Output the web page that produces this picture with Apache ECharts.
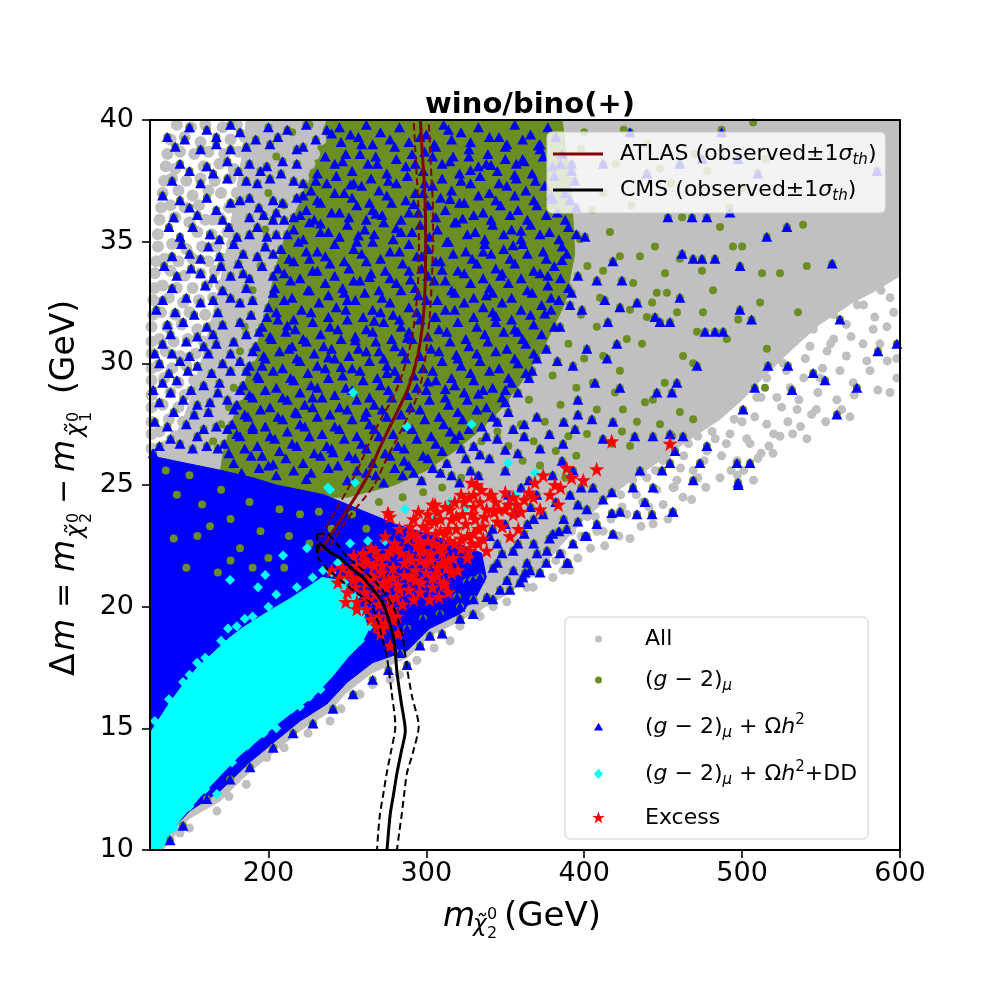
<!DOCTYPE html>
<html>
<head>
<meta charset="utf-8">
<title>wino/bino(+)</title>
<script src="https://cdn.jsdelivr.net/npm/echarts@6/dist/echarts.min.js"></script>
<style>
  html, body { margin: 0; background: #fff; }
  #chart { width: 1000px; height: 1000px; }
</style>
</head>
<body>
<div id="chart"></div>
<script>
// wino/bino(+) : Δm vs m(χ2) scan, ATLAS / CMS limits

const FONT = 'DejaVu Sans'

const xTicks = [200, 300, 400, 500, 600]

// dense cores of each sample (filled areas), [m_chi2, dm]
const allCore = [[186,40],[600,40],[600,33.6],[585,33.0],[570,32.5],[549,31.6],[532,30.6],[513,29.4],[500,28.5],[486,27.7],[465,26.8],[448,26.0],[430,25.2],[420,24.7],[400,23.6],[385,22.5],[372,21.5],[351,20.5],[321,19.4],[302,18.8],[288,17.9],[266,17.3],[250,16.5],[237,15.6],[220,14.9],[203,14.0],[188,13.2],[169,12.0],[150,11.3],[138,10.4],[133,10],[125,10],[125,26.2],[135,26.5],[145,27.5],[152,28.8],[158,30.2],[164,31.8],[170,33.5],[175,35.2],[179,36.8],[183,38.4],[186,40]]
const g2Core = [[237,40],[386,40],[392,37],[394,34.5],[388,32.5],[374,30.6],[360,29.2],[347,28.1],[333,27.2],[318,26.4],[300,25.6],[280,25.0],[250,24.5],[200,24.5],[168,25],[172,26.5],[178,27.8],[186,29.4],[193,30.8],[200,32.5],[205,34],[212,35.5],[220,36.6],[228,38.2],[237,40]]
const relicCore = [[125,10],[125,26.2],[140,26.0],[155,25.8],[170,25.6],[190,25.3],[205,25.0],[220,24.8],[235,24.6],[250,24.2],[265,23.8],[280,23.4],[300,23.0],[320,22.6],[335,22.2],[338,21.2],[330,20.2],[321,19.7],[302,19.1],[288,18.2],[266,17.7],[250,16.9],[237,16.0],[220,15.3],[203,14.4],[188,13.6],[169,12.4],[150,11.6],[140,10.9],[134,10.3],[132,10]]
const ddCore = [[125,10],[125,14.8],[130,15.3],[137,16.0],[146,16.8],[155,17.5],[165,18.1],[175,18.7],[183,19.1],[195,19.6],[205,20.0],[213,20.3],[225,20.8],[234,21.2],[243,21.1],[250,20.8],[256,20.3],[261,19.6],[263,19.0],[259,18.5],[250,17.9],[240,17.1],[230,16.4],[220,15.9],[208,15.3],[195,14.6],[182,13.9],[170,13.1],[157,12.2],[145,11.3],[137,10.6],[132,10]]

// grey points of the upper-left strip
const allStrip = [[142,39.8],[151,39.7],[160,39.8],[171,39.7],[180,39.8],[190,39.7],[199,39.8],[209,39.7],[219,39.8],[229,39.7],
  [138,39.2],[147,39.3],[157,39.1],[176,39.2],[185,39.3],[195,39.1],[204,39.2],[214,39.3],[224,39.1],[233,39.2],
  [136,38.6],[144,38.7],[153,38.6],[162,38.7],[172,38.6],[181,38.7],[210,38.6],[220,38.7],[229,38.6],
  [135,38.1],[141,38.0],[159,38.1],[169,38.2],[178,38.0],[188,38.1],[197,38.2],[207,38.0],[216,38.1],[226,38.2],
  [134,37.5],[139,37.6],[148,37.5],[157,37.6],[166,37.5],[176,37.6],[185,37.5],[204,37.6],[213,37.5],[222,37.6],
  [133,37.0],[143,37.1],[152,36.9],[180,37.0],[190,37.1],[199,36.9],[209,37.0],[218,37.1],
  [132,36.4],[138,36.5],[147,36.4],[156,36.5],[175,36.4],[185,36.5],[194,36.4],[203,36.5],[213,36.4],
  [131,35.9],[141,36.0],[150,35.8],[160,35.9],[169,36.0],[188,35.8],[198,35.9],[207,36.0],
  [130,35.3],[155,35.4],[164,35.3],[174,35.4],[183,35.3],[193,35.4],[202,35.3],
  [130,34.8],[139,34.9],[148,34.7],[158,34.8],[177,34.9],[186,34.7],[196,34.8],[205,34.9],
  [129,34.2],[134,34.3],[143,34.2],[152,34.3],[162,34.2],[171,34.3],[181,34.2],[200,34.3],
  [128,33.7],[138,33.8],[147,33.6],[157,33.7],[166,33.8],[176,33.6],[185,33.7],[195,33.8],
  [128,33.1],[133,33.2],[142,33.1],[170,33.2],[180,33.1],[189,33.2],[199,33.1],
  [127,32.6],[137,32.7],[146,32.5],[156,32.6],[165,32.7],[175,32.5],[184,32.6],[194,32.7],
  [127,32.0],[132,32.1],[141,32.0],[150,32.1],[160,32.0],[179,32.1],[188,32.0],[196,32.1],
  [126,31.5],[145,31.6],[155,31.4],[164,31.5],[174,31.6],[183,31.4],[192,31.5],
  [126,30.9],[131,31.0],[140,30.9],[149,31.0],[159,30.9],[168,31.0],[178,30.9],[187,31.0],
  [126,30.4],[135,30.5],[144,30.3],[173,30.4],[182,30.5],[189,30.3],
  [126,29.8],[130,29.9],[139,29.8],[148,29.9],[158,29.8],[167,29.9],[177,29.8],[185,29.9],
  [126,29.3],[134,29.4],[143,29.2],[153,29.3],[162,29.4],[181,29.2],
  [126,28.7],[138,28.8],[147,28.7],[157,28.8],[166,28.7],[175,28.8],[181,28.7],
  [126,28.2],[133,28.3],[152,28.1],[161,28.2],[170,28.3],[177,28.1],
  [126,27.6],[137,27.7],[146,27.6],[156,27.7],[165,27.6],[173,27.7],
  [126,27.1],[131,27.2],[141,27.0],[160,27.1],[169,27.2],
  [126,26.5],[135,26.6],[145,26.5],[154,26.6],[163,26.5],[168,26.6],
  [194,38.6],[201,38.7],[190,37.5],[197,37.6],[170,37.0],[162,37.1],[165,35.9],[180,35.9],[193,35.0],[167,34.8],[190,34.2],[152,33.1],[161,33.2],[171,32.1],[136,31.5],[154,30.4],[163,30.4],[172,29.3],[143,28.2]]

// single points outside the cores
const allPts = [[593.7,32.7],[591.7,31.5],[587.3,30.8],[593.7,28.8],[581,29.7],[576.6,30.8],[568.3,27.8],[570.4,29.2],[562,29.7],[553.8,30.5],[549.3,29.4],[545,31.4],[541,26.9],[534.8,28.1],[530.4,29.0],[526,30.0],[519.6,26.3],[515.6,27.5],[509.3,28.6],[515.6,29.4],[507.2,25.2],[505,26.7],[496.8,26.0],[492.3,27.1],[486,25.3],[477.7,26.4],[469,25.6],[458.7,25.2],[450,26.0],[439.7,25.3],
  [462.5,24.5],[450,24.2],[437,24.3],[443.6,23.4],[429,22.8],[413,22.5],[396,22.0],[386.6,21.5],[363.7,20.8],[456.2,24.9],[430.8,25.2],[418.3,24.9],[391,21.5],[380.2,21.2],[367.6,20.8],[351,20.2],[342.3,20.0],[334,19.6],
  [598,30.2],[584,31.9],[577,32.4],[566,31.6],[558,31.0],[540,30.2],[537,27.4],[524,27.0],[522,28.6],[500,27.6],[483,26.9],[472,27.0],[463,26.2],[454,27.0],[445,25.6],[424,24.1],[408,23.1],[402,23.7],[379,22.3],[370,21.9],[356,21.1],[346,20.9],[328,19.9],[560,28.5],[547,28.1],[529,27.6],[512,26.3],[497,25.4],[477,24.9],[468,24.4],[453,23.6],[436,23.3],[422,22.9],[404,22.4],
  [596,32.1],[598,29.4],[592,30.1],[588,33.0],[583,31.4],[579,30.1],[586,28.9],[573,32.4],[569,31.1],[566,30.3],[571,28.7],[563,28.1],[558,32.0],[556,30.8],[551,29.8],[548,28.8],[553,27.6],[543,30.7],[539,29.4],[536,28.5],[544,27.9],[532,27.1],[528,29.7],[525,28.2],[520,27.1],[517,26.6],[512,28.6],[508,27.8],[503,26.9],[510,26.1],[501,25.6],[495,27.7],[490,26.7],[487,26.2],[493,25.6],[481,27.2],[476,26.0],[472,25.3],[466,26.7],[461,25.7],[457,24.9],[452,26.1],[446,24.8],[441,24.1],[437,25.5],[433,24.6],[427,23.8],[423,24.6],[417,23.6],[412,23.1],[407,23.7],[398,22.9],[392,23.1],[386,22.2],[382,21.9],[375,22.3],[368,21.4],
  [258,16.4],[239,15.3],[199,13.8],[167.4,11.6],[144,10.7],[294,17.8],[277,17.0],[315,18.6],[321.3,19.2],[340.3,20.4],[332,19.9],[150,10.9],[175,12.2],[186,12.7],[210,14.2],[225,14.8],[246,15.8],[266,16.8],[283,17.2],[305,18.3]]

const g2Pts = [[538.6,35.7],[524,33.7],[512.6,33.7],[541,34.0],[535.4,32.1],[515.7,30.6],[514.5,29.0],[511.4,32.5],[500,34.8],[494.2,34.8],[497.5,31.8],[486,35.6],[481.6,33.0],[490.3,31.0],[474.6,33.8],[475.2,32.1],[471.4,31.3],[469,30.0],[462.6,30.3],[458.8,32.1],[460.6,34.3],[444.8,34.8],[451.2,33.7],[452.4,32.9],[446,32.9],[443,32.5],[439.7,31.9],[436.6,30.8],[451,29.2],[443.5,28.5],[438.5,28.4],[433.4,27.6],[448,27.5],[460.6,28.0],[469,27.7],[455.6,27.0],[423.9,27.2],[417.6,26.7],[429,26.6],[424.5,28.1],[419.5,28.8],[422.6,29.7],[427,31.0],[429,32.2],[431,33.3],[435.3,34.4],[422.6,34.4],[416.3,35.4],[412,33.8],[410,32.7],[408,31.5],[412,30.3],[405.5,29.2],[408,28.1],[401.8,27.1],[397.3,35.1],
  [400,39.5],[420,38.2],[440,39.0],[455,37.4],[470,38.6],[487,39.6],[500,37.2],[507,39.9],[430,36.5],[462,36.0],[478,37.9],[515,38.4],[492,36.4],[448,38.0],[412,37.0],[425,39.6],[405,36.3],
  [335,26.8],[345,27.2],[352,26.6],[360,27.5],[368,26.8],[375,27.6],[382,26.4],[390,27.0],[372,25.8],[395,26.2],[385,28.3],[365,28.5],[395,29.0],[380,29.5],[390,30.8],[398,32.0],[392,37.5],[398,38.8],[402,34.0],[400,30.2],[388,25.3],[361,26.0],[378,31.8],
  [200,37.0],[195,34.0],[185,31.5],[178,29.0],[170,27.5],[215,39.5],[205,38.5],[190,33.0],[182,30.5],[210,36.5],[198,35.5],[226,39.8],[175,28.2],[165,26.8],
  [135,25.6],[142,24.6],[150,25.4],[158,24.2],[163,23.3],[170,24.8],[176,23.6],[182,22.4],[188,24.3],[195,23.1],[200,22.0],[207,24.0],[213,22.9],[220,23.8],[226,22.6],[232,23.9],[240,23.2],[253,23.8],[262,23.2],[270,24.3],[285,24.5],[298,24.7],[310,24.9],[322,25.3],[140,22.8],[148,21.6],[155,22.9],[168,21.4],[176,21.9],[190,21.6],[210,21.6]]

const relicPts = [
  // left strip
  [150,39.7],[161,39.6],[176,39.8],[182,39.5],[200,39.7],[212,39.6],[224,39.8],[237,39.6],[245,39.7],
  [141,38.9],[157,38.8],[167,39.0],[176,38.8],[186,38.9],[201,39.0],[218,38.8],[222,38.9],
  [144,38.2],[161,38.1],[174,38.3],[188,38.2],[199,38.1],[209,38.3],[218,38.2],
  [139,37.5],[157,37.4],[174,37.6],[186,37.5],[193,37.4],[201,37.6],[216,37.5],[222,37.4],
  [144,36.7],[161,36.8],[176,36.6],[182,36.7],[188,36.8],[203,36.7],[209,36.6],[218,36.8],
  [140,36.0],[155,36.1],[171,35.9],[188,36.0],[197,36.1],[203,35.9],[216,36.0],
  [144,35.2],[163,35.3],[169,35.1],[180,35.2],[188,35.3],[199,35.2],
  [139,34.4],[150,34.5],[157,34.3],[169,34.4],[184,34.5],[193,34.4],
  [142,33.6],[157,33.7],[165,33.5],[176,33.6],[184,33.7],[188,33.5],[203,33.6],
  [133,32.6],[148,32.7],[157,32.5],[165,32.6],[176,32.7],[182,32.5],[190,32.6],
  [136,31.6],[146,31.7],[161,31.5],[171,31.6],[182,31.7],
  [133,30.8],[148,30.9],[159,30.7],[167,30.8],[178,30.9],
  [131,30.0],[144,30.1],[155,29.9],[171,30.0],[182,30.1],
  [133,29.2],[142,29.3],[159,29.1],[169,29.2],
  [131,28.4],[146,28.5],[155,28.3],[163,28.4],[174,28.5],
  [136,27.4],[148,27.5],[159,27.3],[167,27.4],
  [131,26.6],[144,26.7],[152,26.5],[161,26.6],
  [136,39.3],[147,39.2],[167,39.3],[192,39.2],[206,39.3],[230,39.2],[150,37.9],[165,37.8],[181,37.9],[195,37.9],[208,37.8],[133,36.9],[150,36.4],[167,36.3],[194,36.4],[210,35.9],[137,35.6],[152,35.6],[175,35.6],[193,35.6],[205,35.3],[145,34.9],[162,34.8],[178,34.9],[198,34.8],[134,34.0],[151,33.9],[170,34.0],[181,34.1],[196,34.0],[139,33.1],[160,33.2],[171,33.0],[186,33.1],[129,32.2],[141,32.1],[153,32.0],[168,32.1],[189,32.0],[138,31.2],[155,31.1],[165,31.2],[186,31.2],[128,30.4],[139,30.4],[150,30.3],[162,30.4],[176,30.4],[137,29.6],[149,29.7],[164,29.6],[176,29.7],[127,28.9],[138,28.8],[151,28.9],[168,28.8],[140,28.0],[153,27.9],[162,28.0],[128,27.6],[138,26.9],[155,27.0],[127,26.3],
  // g-2 core
  [252,39.4],[262,39.8],[271,39.5],[283,39.7],[300,39.4],[311,39.8],[322,39.5],[333,39.7],[346,39.3],[356,39.8],[366,39.4],[377,39.7],
  [249,38.6],[259,39.0],[268,38.5],[280,38.9],[291,38.6],[306,38.9],[317,38.5],[327,38.8],[339,38.6],[350,38.9],[361,38.4],[372,38.8],[386,38.6],
  [231,37.8],[242,38.2],[253,37.9],[263,38.2],[275,37.8],[287,38.1],[298,37.9],[310,38.2],[321,37.8],[333,38.1],[345,37.9],[357,38.2],[367,37.8],[380,38.1],[392,37.9],
  [227,37.1],[237,37.4],[248,37.0],[259,37.3],[270,37.1],[281,37.4],[293,37.0],[304,37.3],[316,37.1],[328,37.4],[340,37.0],[351,37.3],[363,37.1],[375,37.3],[388,37.0],
  [224,36.3],[233,36.6],[245,36.2],[256,36.5],[266,36.3],[278,36.6],[289,36.2],[301,36.5],[312,36.3],[324,36.6],[336,36.2],[347,36.5],[358,36.3],[370,36.5],[383,36.2],[395,36.4],
  [216,35.5],[226,35.8],[238,35.4],[250,35.7],[261,35.5],[273,35.8],[284,35.4],[296,35.7],[307,35.5],[319,35.8],[331,35.4],[342,35.7],[354,35.5],[366,35.7],[378,35.4],[390,35.6],
  [208,34.7],[219,35.0],[231,34.6],[242,34.9],[254,34.7],[266,35.0],[277,34.6],[289,34.9],[301,34.7],[313,35.0],[325,34.6],[337,34.9],[349,34.7],[361,34.9],[374,34.6],[386,34.8],
  [206,33.9],[216,34.2],[228,33.8],[239,34.1],[251,33.9],[262,34.2],[274,33.8],[285,34.1],[297,33.9],[309,34.2],[320,33.8],[332,34.1],[344,33.9],[356,34.1],[368,33.8],[381,34.0],
  [204,33.1],[214,33.4],[225,33.0],[236,33.3],[247,33.1],[258,33.4],[270,33.0],[281,33.3],[293,33.1],[305,33.4],[316,33.0],[328,33.3],[340,33.1],[352,33.3],[364,33.0],[377,33.2],[390,33.1],
  [200,32.3],[210,32.6],[221,32.2],[232,32.5],[243,32.3],[255,32.6],[266,32.2],[277,32.5],[289,32.3],[300,32.6],[312,32.2],[324,32.5],[336,32.3],[348,32.5],[360,32.2],[373,32.4],[384,32.6],
  [196,31.5],[206,31.8],[217,31.4],[228,31.7],[239,31.5],[250,31.8],[262,31.4],[273,31.7],[284,31.5],[296,31.8],[308,31.4],[320,31.7],[332,31.5],[344,31.7],[356,31.4],[368,31.6],[381,31.5],
  [192,30.7],[202,31.0],[213,30.6],[224,30.9],[235,30.7],[246,31.0],[257,30.6],[268,30.9],[280,30.7],[291,31.0],[303,30.6],[315,30.9],[327,30.7],[339,30.9],[351,30.6],[363,30.8],[376,30.6],
  [188,29.9],[198,30.2],[209,29.8],[220,30.1],[231,29.9],[242,30.2],[253,29.8],[264,30.1],[275,29.9],[287,30.2],[298,29.8],[310,30.1],[322,29.9],[334,30.1],[346,29.8],[358,30.0],[370,30.2],
  [184,29.1],[194,29.4],[205,29.0],[216,29.3],[227,29.1],[238,29.4],[249,29.0],[260,29.3],[271,29.1],[282,29.4],[294,29.0],[306,29.3],[318,29.1],[330,29.3],[342,29.0],[354,29.2],[365,29.4],
  [180,28.3],[190,28.6],[201,28.2],[212,28.5],[223,28.3],[234,28.6],[245,28.2],[256,28.5],[267,28.3],[278,28.6],[290,28.2],[302,28.5],[314,28.3],[326,28.5],[338,28.2],[350,28.4],
  [177,27.5],[187,27.8],[198,27.4],[209,27.7],[220,27.5],[231,27.8],[242,27.4],[253,27.7],[264,27.5],[275,27.8],[287,27.4],[299,27.7],[311,27.5],[323,27.7],[335,27.4],[345,27.6],
  [172,26.7],[182,27.0],[193,26.6],[204,26.9],[215,26.7],[226,27.0],[237,26.6],[248,26.9],[259,26.7],[270,27.0],[282,26.6],[294,26.9],[306,26.7],[318,26.9],[330,26.6],
  [178,25.9],[189,26.2],[200,25.8],[211,26.1],[222,25.9],[233,26.2],[244,25.8],[255,26.1],[266,25.9],[277,26.2],[289,25.8],[301,26.1],[313,25.9],[325,26.1],
  [250,25.2],[262,25.5],[273,25.1],[285,25.4],[297,25.2],[309,25.5],[321,25.1],[333,25.4],
  [246,39.1],[257,39.3],[266,39.0],[277,39.2],[289,39.1],[296,39.3],[305,39.0],[316,39.2],[328,39.1],[340,39.3],[351,39.0],[361,39.2],[372,39.0],[382,39.3],
  [236,38.5],[247,38.3],[258,38.6],[269,38.2],[281,38.4],[293,38.2],[304,38.5],[315,38.3],[327,38.5],[338,38.2],[350,38.4],[362,38.3],[374,38.5],[385,38.2],
  [230,37.5],[243,37.7],[254,37.4],[265,37.6],[276,37.5],[288,37.7],[299,37.4],[310,37.6],[322,37.5],[334,37.7],[346,37.4],[357,37.6],[369,37.5],[381,37.7],[394,37.5],
  [222,36.9],[231,36.7],[242,37.0],[253,36.8],[264,36.6],[275,36.9],[287,36.7],[298,37.0],[309,36.8],[321,36.6],[333,36.9],[344,36.7],[356,36.9],[368,36.7],[379,36.9],[391,36.7],
  [220,36.1],[229,35.9],[240,36.2],[251,36.0],[262,35.9],[272,36.1],[284,35.9],[295,36.2],[306,36.0],[318,35.8],[330,36.1],[341,35.9],[353,36.1],[364,35.9],[376,36.1],[388,35.9],
  [212,35.3],[222,35.1],[233,35.4],[245,35.2],[256,35.0],[267,35.3],[279,35.1],[291,35.4],[302,35.2],[314,35.0],[326,35.3],[337,35.1],[349,35.3],[360,35.1],[372,35.3],[384,35.1],[395,35.3],
  [203,34.5],[213,34.3],[224,34.6],[236,34.4],[248,34.2],[259,34.5],[271,34.3],[283,34.6],[294,34.4],[306,34.2],[317,34.5],[329,34.3],[341,34.5],[353,34.3],[364,34.5],[376,34.3],[389,34.5],
  [210,33.7],[220,33.5],[231,33.8],[242,33.6],[254,33.4],[265,33.7],[277,33.5],[289,33.8],[301,33.6],[312,33.4],[324,33.7],[336,33.5],[348,33.7],[360,33.5],[372,33.7],[385,33.5],
  [203,32.9],[215,32.7],[226,33.0],[238,32.8],[250,32.6],[261,32.9],[272,32.7],[284,33.0],[295,32.8],[307,32.6],[318,32.9],[330,32.7],[342,32.9],[354,32.7],[367,32.9],[379,32.7],[392,32.9],
  [199,31.9],[205,32.1],[216,31.8],[227,32.1],[238,31.9],[249,32.2],[260,31.9],[271,32.1],[283,31.8],[294,32.1],[306,31.9],[318,32.2],[330,31.9],[342,32.1],[354,31.8],[366,32.0],[379,32.2],
  [194,31.3],[201,31.1],[211,31.3],[222,31.0],[233,31.2],[244,31.4],[255,31.1],[266,31.3],[278,31.0],[289,31.3],[301,31.1],[313,31.3],[325,31.0],[337,31.2],[349,31.3],[361,31.0],[373,31.2],
  [190,30.5],[197,30.3],[207,30.5],[218,30.2],[229,30.4],[240,30.6],[251,30.3],[262,30.5],[273,30.2],[285,30.5],[296,30.3],[308,30.5],[320,30.2],[332,30.4],[344,30.5],[356,30.2],[368,30.4],
  [186,29.7],[193,29.5],[203,29.7],[214,29.4],[225,29.6],[236,29.8],[247,29.5],[258,29.7],[269,29.4],[280,29.7],[292,29.5],[304,29.7],[316,29.4],[328,29.6],[340,29.7],[352,29.4],[363,29.6],
  [182,28.9],[188,28.7],[198,28.9],[209,28.6],[220,28.8],[231,29.0],[242,28.7],[253,28.9],[264,28.6],[276,28.9],[288,28.7],[300,28.9],[312,28.6],[324,28.8],[336,28.9],[348,28.6],[358,28.8],
  [178,28.1],[185,27.9],[195,28.1],[206,27.8],[217,28.0],[228,28.2],[239,27.9],[250,28.1],[261,27.8],[272,28.1],[284,27.9],[296,28.1],[308,27.8],[320,28.0],[332,28.1],[342,27.8],[352,28.0],
  [174,27.3],[180,27.1],[190,27.3],[201,27.0],[212,27.2],[223,27.4],[234,27.1],[245,27.3],[256,27.0],[267,27.3],[279,27.1],[291,27.3],[303,27.0],[315,27.2],[327,27.3],[338,27.0],
  [168,26.5],[175,26.3],[185,26.5],[196,26.2],[207,26.4],[218,26.6],[229,26.3],[240,26.5],[251,26.2],[262,26.5],[274,26.3],[286,26.5],[298,26.2],[310,26.4],[322,26.5],
  [183,25.5],[194,25.7],[205,25.4],[216,25.6],[227,25.5],[238,25.7],[256,25.6],[268,25.4],[280,25.7],[292,25.5],[304,25.7],[316,25.4],[328,25.6],
  [257,35.25],[279,32.0],[301,29.25],[323,35.95],[344,31.95],[367,29.7],[238,30.25],[262,28.0],[286,26.0],[310,33.85],[333,28.75],[355,34.85],[377,33.6],[226,34.3],[248,32.9],[270,30.5],[292,36.55],[314,39.6],[336,34.6],[358,31.3],[380,36.75],[215,30.7],[240,39.45],[264,33.55],[288,31.05],[312,28.95],[334,26.25],[356,37.75],[218,27.95],[241,26.35],[268,36.15],[297,34.4],[319,30.35],[341,38.15],[362,27.5],[383,30.1],[205,36.2],[228,28.6],[252,37.35],[275,29.6],[299,38.7],[321,27.05],[347,33.6],[371,38.95],[196,29.9],[212,31.55],[233,35.75],[255,30.95],[281,35.55],[305,31.9],[328,37.95],[350,26.45],[375,32.05],[190,27.4],[203,25.85],[224,25.25],[246,29.85],[267,31.75],[290,33.45],[315,36.75],[338,32.8],[360,35.45],[386,34.25],
  [340,26.1],[350,25.6],[358,26.3],[365,25.2],[372,26.5],[380,25.4],[386,26.0],[393,25.6],[345,26.9],[355,27.3],[362,27.0],[370,27.8],[378,27.1],[387,27.6],[396,27.9],[350,28.9],
  // right side, among grey
  [528.4,35.6],[515.6,35.2],[557,34.1],[562,31.8],[586,30.5],[598,30.8],[572.7,29.0],[560,27.9],[545,29.6],[552.5,29.3],[531.6,28.9],[529,29.9],[516.4,29.9],[508,29.0],[500.6,28.1],[496.8,25.9],[505,25.9],[497.4,25.1],[498.6,32.2],[506,31.8],[488,31.3],[482.8,31.3],[476.5,31.3],[471.4,29.9],[460.6,32.7],[474.6,34.3],[469,34.3],[482.8,34.3],[462,34.5],[498.7,34.0],[468.3,36.0],[477.7,36.0],[453,36.0],[492.3,36.2],
  [448,31.7],[454.3,31.7],[444.8,31.9],[433.5,32.5],[458.7,29.2],[446,28.8],[455.6,28.8],[443.5,27.0],[454.3,27.1],[462.6,27.0],[477.7,26.6],[473.3,25.9],[469,25.2],[457.5,26.4],[432,27.0],[422.6,29.0],[414.5,30.2],[420.7,30.8],[415,31.7],[422.6,32.3],[413,32.6],[423.9,33.4],[408,33.4],[418.2,34.2],[400.5,35.2],[396,33.6],[391,32.4],[398.6,32.2],[384.7,31.5],[401.7,30.6],[392.9,29.9],[406.8,29.2],[396,28.5],[404.9,27.7],[418.2,27.6],[411.9,26.9],[394.2,27.3],[386.6,26.7],
  [439.7,37.8],[460.6,38.2],[474.6,38.4],[497.4,38.4],[487,39.5],[510,37.8],[585.4,37.9],[412,38.2],[429,39.5],[392,38.2],
  // lower band
  [456.2,23.9],[443,23.8],[433.4,23.8],[422.7,23.9],[417.5,24.7],[430.9,24.9],[435.3,25.6],[449.3,25.6],[454.3,25.9],[411.9,24.4],[405.6,24.9],[401.7,24.0],[408,23.4],[418.2,23.0],[396,23.5],[389,23.2],[400.5,22.9],[392.9,22.6],[380.2,23.0],[376.4,22.3],[384.7,22.2],[389,21.8],[370.1,22.2],[363.8,21.8],[372,21.4],[355.1,21.5],[351.1,21.1],[359.3,21.0],[346.7,20.7],[338.4,20.4],[329.9,20.3],[321.3,20.0],[325.7,21.0],[334,21.2],[342.3,21.6],[443.6,24.9],[438.5,24.3],[497.6,25.0],[456,23.9],[417.5,23.85],[401.6,22.9],[389.7,21.8],[365.7,21.5],[362.5,21.4],
  [287.8,19.1],[297.9,19.5],[308.6,19.7],[321.3,19.5],[302.3,18.8],[283.3,18.1],[287.8,17.6],[296,18.4],[329.6,19.7],[342.2,20.3],[353,20.7],[361.2,21.2],[319.5,20.4],[329.6,21.1],[345,22.6],[355,22.3],[362,23.0],[368,23.6],[350,23.4],[340,22.9],
  [342,23.2],[348,22.2],[352,24.6],[358,22.6],[364,23.4],[368,22.6],[374,23.8],[378,22.8],[382,24.3],[387,23.6],[391,24.6],[396,24.2],[360,24.9],[370,24.6],[345,21.8],[356,23.9],[384,23.1],[376,21.8],[366,24.1],[398,24.9],
  [161,12.1],[175.7,12.9],[188.3,13.4],[203,14.2],[215.6,14.8],[228.2,15.2],[240.9,15.8],[253.6,16.4],[266,17.0],[145.9,11.0],[137.7,10.4],[276,17.4],[310,18.9]]

const ddPts = [[253.6,28.8],[287.7,27.4],[328.7,27.5],[351.8,25.9],[368.8,25.5],[356.2,24.6],[315,24.3],[325,24.1],[286.5,24.0],[305.5,23.7],[239,24.8],[254.8,25.1],[251.7,22.6],[263,22.7],[273.8,22.7],[234.6,21.5],[224.4,22.4],[209.3,22.1],[198,21.3],[175.7,21.1],[193.4,20.8],[185,19.5],[174.4,19.1],[154.8,17.7],[145.9,16.9],[244,21.8],[237.7,24.9],
  [128,15.3],[137,16.2],[150,17.2],[160,17.9],[170,18.6],[180,19.2],[190,19.6],[200,20.0],[205,20.5],[218,20.8],[228,21.2],[240,21.4],[248,21.0],[255,20.4],[260,19.8],
  [131,10.2],[140,10.9],[150,11.8],[160,12.5],[167.4,12.3],[177,13.6],[187,14.3],[197,14.8],[205,15.0],[215,15.8],[220,15.9],[226,16.3],[233,16.6],[242,17.5],[252,18.3],[258,18.6],[264,19.2]]

const excessPts = [[417.4,26.8],[454.3,26.7],[388.9,25.7],[407.9,25.65],[399.4,25.2],[381.5,25.0],[368.8,25.1],[328.7,25.1],[335,24.8],[341.4,24.6],[367.8,24.5],[378.3,24.6],[383.6,24.2],[357.2,24.2],[349.8,24.0],[338.2,24.0],[305.5,24.2],[277,23.7],[358.3,23.2],[353,22.9],[338.2,22.3],[304,24.2],[362,24.4],[372,24.0],[345,23.5],[332,25.0],[340.3,24.6],[313,21.6],[275.7,23.85],
  [292,23.6],[297,22.6],[300,23.2],[303,22.2],[306,23.0],[309,23.6],[311,22.5],[314,23.2],[317,22.0],[319,23.7],[322,22.8],[325,23.4],[327,22.3],[330,23.0],[333,22.6],[336,23.3],[296,21.9],[310,21.8],[320,21.5],[301,23.8],[315,24.0],[324,24.3],[329,23.8],[294,22.9],[305,22.6],[318,22.6],[312,24.1],[326,22.0],[331,23.6],[307,23.9],
  [258,21.2],[261,20.6],[263,21.8],[266,21.2],[268,20.5],[270,22.0],[272,21.4],[275,20.8],[277,22.3],[279,21.6],[282,20.9],[284,22.2],[286,21.3],[289,20.7],[291,21.9],[293,21.1],[296,20.6],[298,22.3],[300,21.4],[304,20.8],[307,21.6],[311,21.0],[314,20.6],[316,21.4],[280,22.6],[288,22.8],[295,22.7],[270,20.1],[276,19.8],[285,20.1],[256,21.7],[260,22.2],[265,22.4],[274,22.9],[283,23.2],[290,23.3],[302,20.3],[308,20.4],[292,20.3],[281,20.4],[267,21.7],[273,21.0],
  [281.5,19.6],[268.6,19.2],[279,19.45],[274,19.3],[253.6,21.1],[245.3,21.2],[250,20.6],[247,21.6],[256,20.2],[262,19.9],[271,18.9],[277,18.4],[282,18.9],[240,21.5],
  [344,24.3],[350,24.7],[355,23.8],[348,23.3],[343,23.9],[352,24.2],[360,23.9],[365,24.7],[374,25.4],[385,24.9],[392,25.3],
  [255,20.8],[262,21.0],[269,20.9],[276,21.1],[283,20.7],[290,21.2],[297,21.0],[304,21.2],[311,20.9],[258,21.6],[265,21.3],[272,21.7],[279,21.2],[286,21.8],[293,21.5],[300,21.8],[307,21.3],[314,21.9],[254,22.1],[261,21.9],[268,22.3],[275,22.1],[282,22.4],[289,22.1],[296,22.3],[303,21.9],[310,22.2],
  [294,22.5],[301,22.7],[308,22.4],[315,22.7],[322,22.4],[329,22.6],[336,22.8],[291,23.0],[298,23.3],[305,23.5],[312,23.0],[319,23.2],[326,22.9],[333,23.2],[295,23.9],[302,23.5],[309,23.1],[316,23.6],[323,23.8],[330,24.1],[337,23.7],
  [249,20.2],[256,19.9],[263,20.3],[270,19.6],[277,20.3],[265,19.5],[272,19.1],[278,19.9],[244,21.0],[251,21.4],
  [318,24.3],[327,24.5],[334,24.3],[346,24.0],[322,24.6],[330,24.6],[355,24.5]]

// limit contours (observed and +-1 sigma_th)
const atlasObs = [[233,22.3],[240,23.0],[248,23.8],[256,24.6],[263,25.4],[271,26.6],[280,27.8],[288,28.9],[293,29.9],[296,30.8],[298.5,32.2],[299.4,33.6],[299.6,35],[299.4,36.3],[298.5,37.6],[297.3,38.8],[296.2,40]]
const atlasLo = [[230.5,22.4],[236,23.2],[243,24.0],[250,24.8],[257,25.7],[265,26.9],[272,27.8],[279,28.6],[285,29.6],[289,30.5],[291.5,31.3],[293.5,32.3],[295,33.6],[295.3,35],[295.1,36.3],[294,37.6],[293,38.8],[292,40]]
const atlasHi = [[239,22.5],[250,23.6],[260,24.4],[267,25.0],[275,26.1],[283,27.1],[289,27.9],[294,28.6],[298,29.6],[300.4,30.8],[302.5,32.2],[303.6,33.6],[304.2,35],[304.2,36.3],[303.3,37.6],[302.3,38.8],[301.5,40]]
const cmsObs = [[230.8,22.2],[232.7,22.6],[236,22.4],[240,22.2],[245.3,22.0],[252,21.6],[259.9,21.2],[265,20.8],[268.8,20.5],[272,20.2],[275.1,19.7],[278.3,19.0],[280,18.4],[281.4,17.3],[284,16.1],[286.7,14.9],[284,14.0],[281.4,13.15],[279,12.2],[277.2,11.5],[276,10.7],[275.1,10]]
const cmsLo = [[231,23.0],[230.6,22.2],[235,21.7],[245.6,21.1],[255,20.6],[264.6,20.15],[269.7,19.3],[272.5,18.6],[275.1,17.9],[278,16.5],[280.4,15.1],[277.5,14.0],[274.9,13.15],[272.5,12.2],[270.7,11.5],[269.5,10.7],[268.8,10]]
const cmsHi = [[231,23.0],[237,23.0],[243,22.6],[249.8,22.05],[258,21.6],[266.7,21.1],[273,20.6],[279,20.0],[283,19.3],[285.5,18.6],[287.7,17.5],[291,16.3],[295.2,15.1],[291.5,14.0],[287.7,13.15],[285.8,12.2],[284.5,11.5],[282.8,10.7],[281.4,10]]

const STAR = 'path://M0,-10L2.35,-3.24L9.51,-3.09L3.8,1.24L5.88,8.09L0,4L-5.88,8.09L-3.8,1.24L-9.51,-3.09L-2.35,-3.24Z'

// legend icons: visible mark inside a fixed 13px box so they keep their own size
const BOX = 'M-6.5,-6.5L-6.5,-6.5M6.5,6.5L6.5,6.5'
const ICON = {
  dot: 'path://' + BOX + 'M3.5,0A3.5,3.5,0,1,1,-3.5,0A3.5,3.5,0,1,1,3.5,0Z',
  tri: 'path://' + BOX + 'M0,-4.2L4.6,3.6L-4.6,3.6Z',
  dia: 'path://' + BOX + 'M0,-5L4.6,0L0,5L-4.6,0Z',
  star: 'path://' + BOX + 'M0,-6.5L1.53,-2.1L6.18,-2.01L2.47,0.81L3.82,5.26L0,2.6L-3.82,5.26L-2.47,0.81L-6.18,-2.01L-1.53,-2.1Z'
}

function core(pts, color) {
  return {
    type: 'custom',
    silent: true,
    data: pts,
    encode: { x: 0, y: 1 },
    renderItem: function(params, api) {
      if (params.dataIndex !== 0) return
      return {
        type: 'polygon',
        shape: { points: pts.map(p => api.coord(p)) },
        style: { fill: color, stroke: color, lineWidth: 1 }
      }
    }
  }
}

function contour(name, data, color, dashed) {
  return {
    name: name,
    type: 'line',
    data: data,
    symbol: 'none',
    smooth: 0.25,
    silent: true,
    clip: true,
    itemStyle: { color: color },
    lineStyle: { color: color, width: dashed ? 2 : 3, type: dashed ? [7, 4] : 'solid' }
  }
}

const labels = {
  ATLAS: '{g|}{t|ATLAS (observed±1}{i|σ}{sub|th}{t|)}',
  CMS: '{g|}{t|CMS (observed±1}{i|σ}{sub|th}{t|)}',
  All: '{g|}{t|All}',
  g2: '{g|}{t|(}{i|g}{t| − 2)}{sub|μ}',
  relic: '{g|}{t|(}{i|g}{t| − 2)}{sub|μ}{t| + Ω}{i|h}{sup|2}',
  dd: '{g|}{t|(}{i|g}{t| − 2)}{sub|μ}{t| + Ω}{i|h}{sup|2}{t|+DD}',
  excess: '{g|}{t|Excess}'
}

function richFor(gap) {
  return {
    g: { width: gap },
    t: { fontFamily: FONT, fontSize: 22, lineHeight: 28, color: '#000' },
    i: { fontFamily: FONT, fontSize: 22, lineHeight: 28, fontStyle: 'italic', color: '#000' },
    sub: { fontFamily: FONT, fontSize: 15, lineHeight: 15, fontStyle: 'italic', verticalAlign: 'bottom', color: '#000' },
    sup: { fontFamily: FONT, fontSize: 15, lineHeight: 15, verticalAlign: 'top', color: '#000' }
  }
}

const legendBox = {
  backgroundColor: 'rgba(255,255,255,0.8)',
  borderColor: '#cccccc',
  borderWidth: 1,
  borderRadius: 5,
  orient: 'vertical',
  selectedMode: false,
  formatter: name => labels[name]
}

function txt(s, x, y, size, italic) {
  return {
    type: 'text', x: x, y: y,
    style: {
      text: s, fill: '#000',
      font: (italic ? 'italic ' : '') + size + 'px "' + FONT + '"',
      verticalAlign: 'middle', align: 'left'
    }
  }
}

const chart = echarts.init(document.getElementById('chart'))

chart.setOption({
  animation: false,
  backgroundColor: '#fff',
  title: {
    text: 'wino/bino(+)',
    left: 525, top: 86, textAlign: 'center',
    textStyle: { fontFamily: FONT, fontSize: 29, fontWeight: 'bold', color: '#000' }
  },
  grid: { left: 150, top: 120, width: 750, height: 730 },
  xAxis: [{
    type: 'value', min: 125, max: 600, z: 10,
    axisLine: { show: true, onZero: false, lineStyle: { color: '#000', width: 2 } },
    axisTick: { show: true, customValues: xTicks, length: 8, lineStyle: { color: '#000', width: 1.6 } },
    axisLabel: { customValues: xTicks, margin: 10, fontFamily: FONT, fontSize: 27, color: '#000' },
    splitLine: { show: false }
  }, {
    type: 'value', min: 125, max: 600, position: 'top', z: 10,
    axisLine: { show: true, onZero: false, lineStyle: { color: '#000', width: 2 } },
    axisTick: { show: false }, axisLabel: { show: false }, splitLine: { show: false }
  }],
  yAxis: [{
    type: 'value', min: 10, max: 40, interval: 5, z: 10,
    axisLine: { show: true, onZero: false, lineStyle: { color: '#000', width: 2 } },
    axisTick: { show: true, length: 8, lineStyle: { color: '#000', width: 1.6 } },
    axisLabel: { margin: 16, fontFamily: FONT, fontSize: 27, color: '#000' },
    splitLine: { show: false }
  }, {
    type: 'value', min: 10, max: 40, position: 'right', z: 10,
    axisLine: { show: true, onZero: false, lineStyle: { color: '#000', width: 2 } },
    axisTick: { show: false }, axisLabel: { show: false }, splitLine: { show: false }
  }],
  legend: [Object.assign({}, legendBox, {
    data: [{ name: 'ATLAS', icon: 'rect' }, { name: 'CMS', icon: 'rect' }],
    left: 547, top: 132,
    padding: [11, 9, 9, 6],
    itemWidth: 50, itemHeight: 3, itemGap: 11,
    textStyle: { rich: richFor(12) }
  }), Object.assign({}, legendBox, {
    data: [
      { name: 'All', icon: ICON.dot },
      { name: 'g2', icon: ICON.dot },
      { name: 'relic', icon: ICON.tri },
      { name: 'dd', icon: ICON.dia },
      { name: 'excess', icon: ICON.star }
    ],
    left: 565, top: 617,
    padding: [11, 11, 10, 27],
    itemWidth: 13, itemHeight: 13, itemGap: 19,
    textStyle: { rich: richFor(35) }
  })],
  graphic: [
    { type: 'group', children: [
      txt('m', 443, 917, 33, true),
      txt('χ̃', 473, 925, 23, true),
      txt('0', 487, 914.5, 16, false),
      txt('2', 487, 934, 16, false),
      txt('(GeV)', 504, 917, 34, false)
    ] },
    { type: 'group', x: 75, y: 676, rotation: Math.PI / 2, children: [
      txt('Δ', 0, -10, 33, false),
      txt('m', 25, -10, 33, true),
      txt('=', 68, -10, 30, false),
      txt('m', 104, -10, 33, true),
      txt('χ̃', 138, 1, 23, true),
      txt('0', 153, -1.5, 16, false),
      txt('2', 153, 12, 16, false),
      txt('−', 172, -10, 30, false),
      txt('m', 204, -10, 33, true),
      txt('χ̃', 239, 1, 23, true),
      txt('0', 254, -1.5, 16, false),
      txt('1', 254, 12, 16, false),
      txt('(GeV)', 282, -10, 33, false)
    ] }
  ],
  series: [
    core(allCore, '#c0c0c0'),
    core(g2Core, '#6b8e23'),
    core(relicCore, '#0000ff'),
    {
      name: 'All', type: 'scatter', data: allStrip, symbol: 'circle', symbolSize: 12,
      itemStyle: { color: '#c0c0c0', opacity: 1 }, silent: true
    },
    {
      name: 'All', type: 'scatter', data: allPts, symbol: 'circle', symbolSize: 9,
      itemStyle: { color: '#c0c0c0', opacity: 1 }, silent: true
    },
    {
      name: 'g2', type: 'scatter', data: g2Pts.concat(relicPts), symbol: 'circle', symbolSize: 8,
      itemStyle: { color: '#6b8e23', opacity: 1 }, silent: true
    },
    {
      name: 'relic', type: 'scatter', data: relicPts, symbol: 'triangle', symbolSize: [11, 10],
      itemStyle: { color: '#0000ff', opacity: 1 }, silent: true
    },
    core(ddCore, '#00ffff'),
    {
      name: 'dd', type: 'scatter', data: ddPts, symbol: 'diamond', symbolSize: 10,
      itemStyle: { color: '#00ffff', opacity: 1 }, silent: true
    },
    {
      name: 'excess', type: 'scatter', data: excessPts, symbol: STAR, symbolSize: 15,
      itemStyle: { color: '#ff0000', opacity: 1 }, silent: true
    },
    contour('ATLAS', atlasObs, '#800000', false),
    contour('ATLAS-lo', atlasLo, '#800000', true),
    contour('ATLAS-hi', atlasHi, '#800000', true),
    contour('CMS', cmsObs, '#000000', false),
    contour('CMS-lo', cmsLo, '#000000', true),
    contour('CMS-hi', cmsHi, '#000000', true)
  ]
})
</script>
</body>
</html>
